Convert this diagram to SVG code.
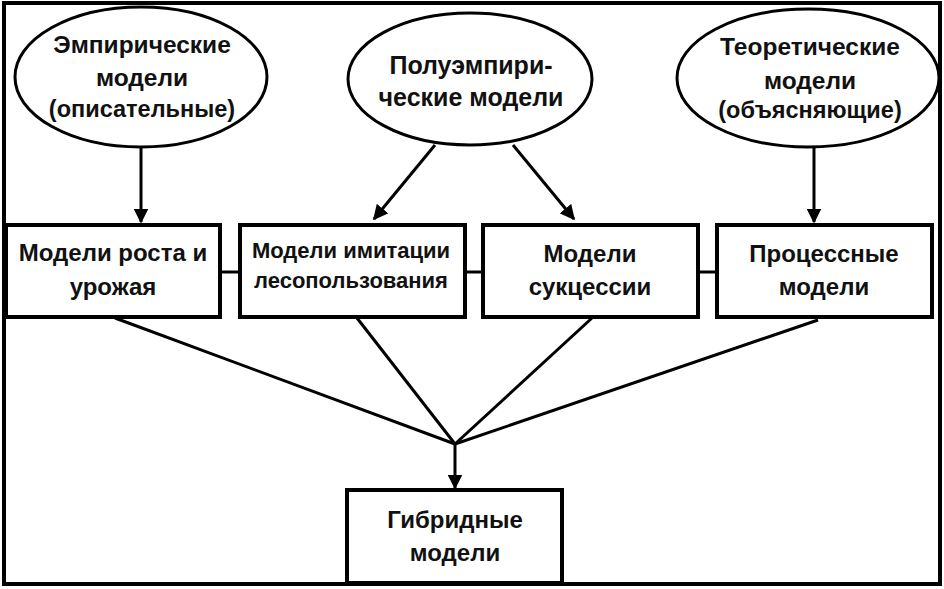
<svg xmlns="http://www.w3.org/2000/svg" width="944" height="589" viewBox="0 0 944 589">
<defs>
<marker id="ah" viewBox="0 0 10 10" refX="9" refY="5" markerWidth="15" markerHeight="15" markerUnits="userSpaceOnUse" orient="auto">
<path d="M0,0 L10,5 L0,10 z" fill="#000"/>
</marker>
<style>
.t{font-family:"Liberation Sans",Arial,sans-serif;font-weight:bold;fill:#111;text-anchor:middle}
.n{fill:#fff;stroke:#000;stroke-width:4}
.e{fill:#fff;stroke:#000;stroke-width:3}
.c{stroke:#000;stroke-width:3;fill:none}
</style>
</defs>
<rect x="0" y="0" width="944" height="589" fill="#fff"/>
<rect x="4" y="3" width="936" height="581" fill="none" stroke="#000" stroke-width="4"/>
<g id="connectors">
<line class="c" x1="141" y1="147" x2="141" y2="222" marker-end="url(#ah)"/>
<line class="c" x1="435" y1="145" x2="374" y2="219" marker-end="url(#ah)"/>
<line class="c" x1="513" y1="145" x2="574" y2="219" marker-end="url(#ah)"/>
<line class="c" x1="814" y1="147" x2="814" y2="222" marker-end="url(#ah)"/>
<line class="c" x1="220" y1="272" x2="240" y2="272"/>
<line class="c" x1="465" y1="272" x2="483" y2="272"/>
<line class="c" x1="698" y1="272" x2="717" y2="272"/>
<line class="c" x1="115" y1="318" x2="455" y2="444"/>
<line class="c" x1="357" y1="318" x2="455" y2="444"/>
<line class="c" x1="592" y1="318" x2="455" y2="444"/>
<line class="c" x1="818" y1="320" x2="455" y2="444"/>
<line class="c" x1="455" y1="444" x2="455" y2="488" marker-end="url(#ah)"/>
</g>
<g id="empirical">
<ellipse class="e" cx="141" cy="77" rx="126" ry="70"/>
<text class="t" x="142" y="53" font-size="24.5">Эмпирические</text>
<text class="t" x="142" y="86" font-size="24.5">модели</text>
<text class="t" x="142" y="117" font-size="23.5">(описательные)</text>
</g>
<g id="semiempirical">
<ellipse class="e" cx="470" cy="79" rx="122" ry="66"/>
<text class="t" x="471" y="74" font-size="25">Полуэмпири-</text>
<text class="t" x="471" y="106" font-size="25">ческие модели</text>
</g>
<g id="theoretical">
<ellipse class="e" cx="808" cy="78" rx="131" ry="69"/>
<text class="t" x="810" y="55" font-size="24.5">Теоретические</text>
<text class="t" x="810" y="89" font-size="24.5">модели</text>
<text class="t" x="810" y="118" font-size="23.5">(объясняющие)</text>
</g>
<g id="growth">
<rect class="n" x="6" y="225" width="214" height="92"/>
<text class="t" x="113" y="261" font-size="24">Модели роста и</text>
<text class="t" x="113" y="295" font-size="24">урожая</text>
</g>
<g id="forestuse">
<rect class="n" x="240" y="225" width="225" height="92"/>
<text class="t" x="351" y="258" font-size="22">Модели имитации</text>
<text class="t" x="351" y="288" font-size="22">лесопользования</text>
</g>
<g id="succession">
<rect class="n" x="483" y="225" width="215" height="92"/>
<text class="t" x="590" y="262" font-size="24">Модели</text>
<text class="t" x="590" y="295" font-size="24">сукцессии</text>
</g>
<g id="process">
<rect class="n" x="717" y="225" width="215" height="92"/>
<text class="t" x="824" y="262" font-size="24">Процессные</text>
<text class="t" x="824" y="295" font-size="24">модели</text>
</g>
<g id="hybrid">
<rect class="n" x="347" y="490" width="215" height="93"/>
<text class="t" x="455" y="528" font-size="24">Гибридные</text>
<text class="t" x="455" y="561" font-size="24">модели</text>
</g>
</svg>
